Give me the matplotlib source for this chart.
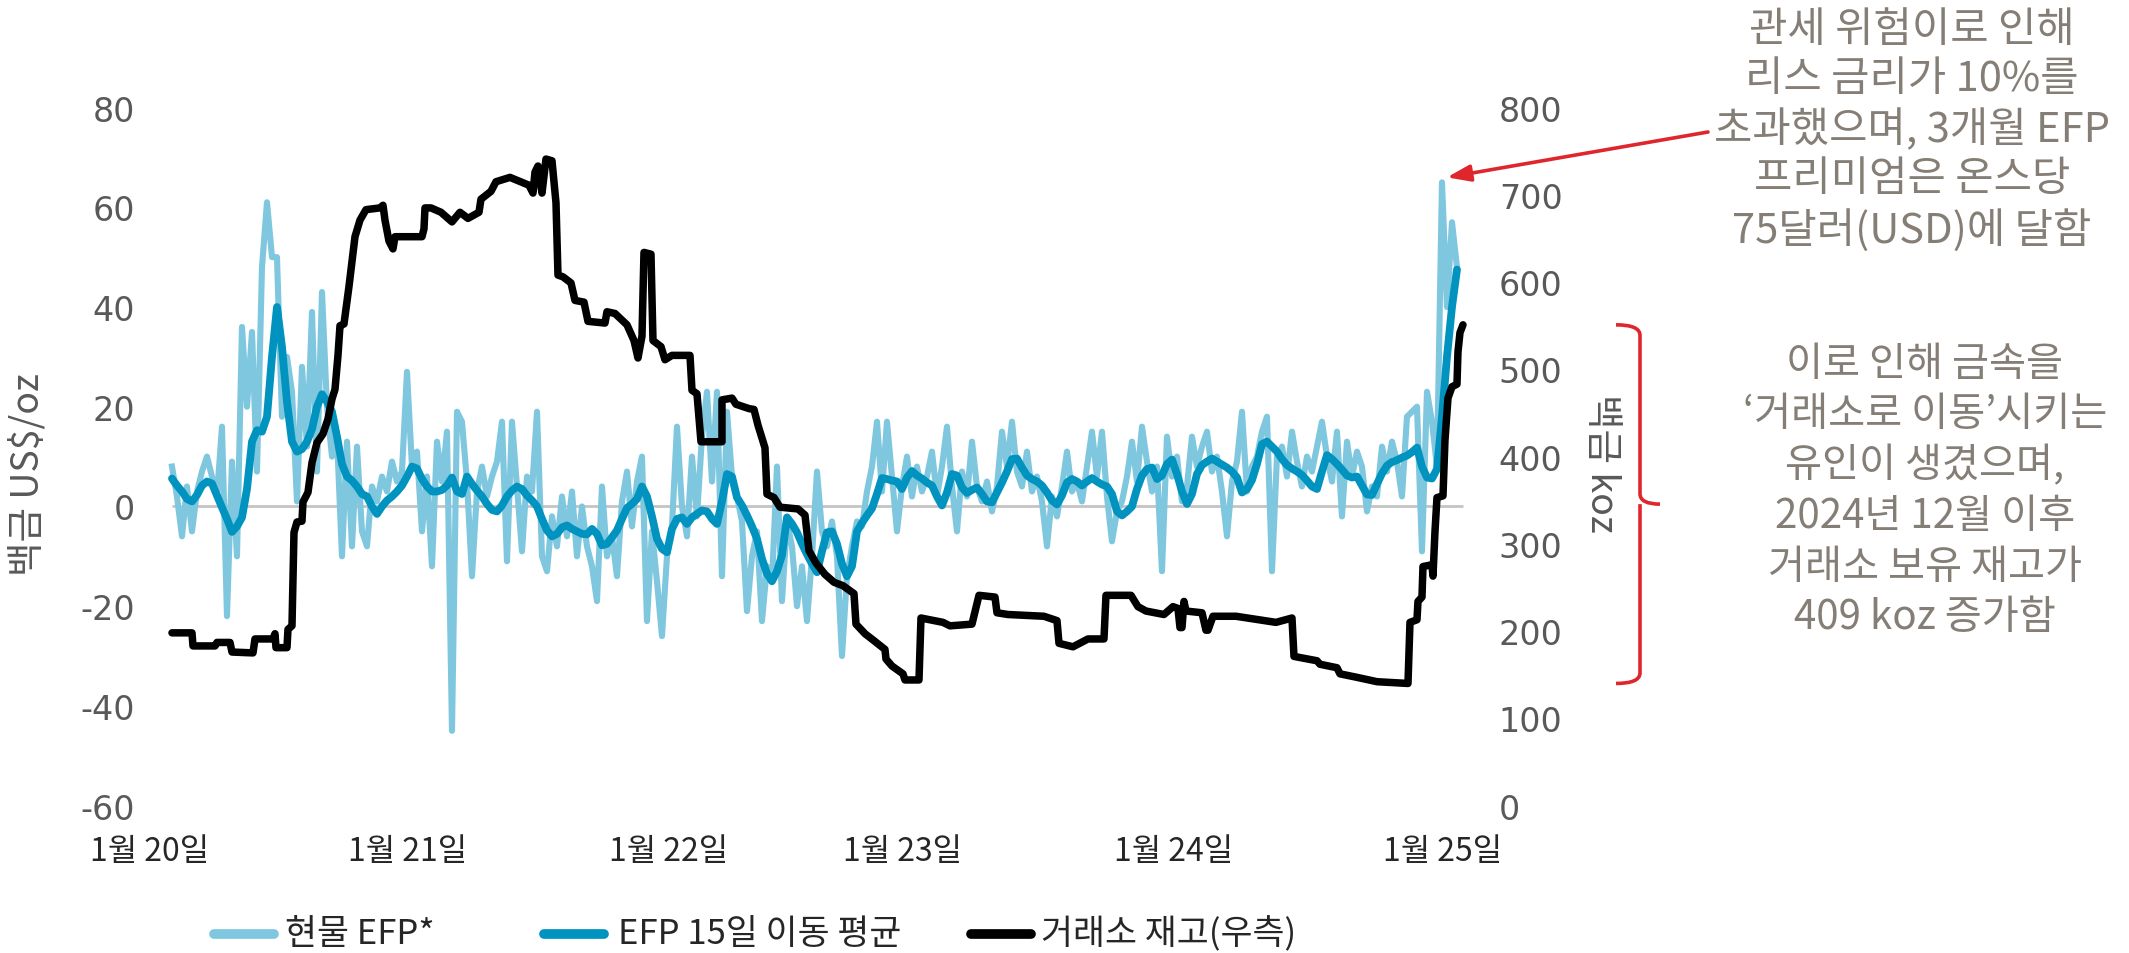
import matplotlib
matplotlib.use('Agg')
import matplotlib.pyplot as plt
import matplotlib.transforms as mtrans
from matplotlib.lines import Line2D
from matplotlib.path import Path
from matplotlib.patches import PathPatch
import numpy as np

plt.rcParams['font.family'] = ['Noto Sans CJK KR', 'DejaVu Sans']
plt.rcParams['axes.unicode_minus'] = False

# spot EFP, US$/oz, one reading every 5 trading days
spot_efp = [8, 2, -6, 4, -5, 3, 7, 10, 6, 2,
            16, -22, 9, -10, 36, 20, 35, 7, 48, 61,
            50, 50, 18, 30, 23, 1, 28, 12, 39, 7,
            43, 20, 10, 14, -10, 13, -8, 12, -5, -8,
            4, 1, 6, 3, 9, 5, 7, 27, 8, 11,
            -5, 6, -12, 13, 5, 15, -45, 19, 17, 5,
            -14, 3, 8, 2, 6, 9, 17, -11, 17, 4,
            -9, 6, 3, 19, -10, -13, -2, -8, 2, -6,
            3, -10, 0, -8, -12, -19, 4, -10, -6, -14,
            1, 7, -4, 5, 10, -23, -5, -15, -26, -10,
            -4, 16, 0, -6, 10, -2, 14, 23, 5, 23,
            -14, 19, 6, 2, -3, -21, -10, -5, -23, -12,
            -15, 8, -19, -3, -8, -20, -12, -23, -10, 7,
            -5, -8, -3, -10, -30, -14, -8, -3, -4, 3,
            8, 17, 3, 17, 6, -5, 4, 10, 2, 8,
            3, 6, 11, 2, 8, 16, 4, -5, 7, 2,
            13, 4, 1, 5, -1, 4, 15, 8, 17, 7,
            4, 11, 3, 6, 1, -8, 2, -2, 4, 11,
            3, 5, 1, 8, 15, 6, 15, 2, -7, -1,
            1, 6, 13, 5, 16, 9, 3, 8, -13, 14,
            6, 10, 1, 4, 14, 8, 12, 15, 7, 10,
            3, -6, 5, 9, 19, 3, 8, 10, 15, 18,
            -13, 10, 12, 6, 15, 9, 4, 10, 7, 12,
            17, 10, 5, 15, -2, 13, 6, 11, 8, -1,
            4, 2, 12, 7, 13, 9, 2, 18, 19, 20,
            -9, 23, 17, 8, 65, 40, 57, 48]

# EFP 15-day moving average, same spacing
efp_ma15 = [5.6, 4.2, 3.0, 1.5, 1.0, 2.3, 4.2, 5.0, 4.6, 2.2,
            -0.2, -2.5, -5.1, -4.0, -2.2, 3.5, 13, 15.3, 15, 18,
            30, 40, 32, 21, 13, 11, 11.5, 13, 15.5, 20,
            22.5, 21, 19, 14, 8.5, 6, 5.2, 4, 2.5, 2,
            0, -1.5, 0, 1.2, 2, 3, 4.2, 6, 8, 7.6,
            5.5, 4, 3, 3, 3.3, 4.2, 5.8, 3, 2.5, 6,
            4.5, 3.2, 2, 0.5, -0.7, -1, 0.2, 2, 3.2, 4,
            3.5, 2.2, 1.2, 0, -2.5, -4.8, -6, -5.5, -4.2, -3.8,
            -4.5, -5, -5.5, -5.6, -4.5, -5.5, -7.8, -7.5, -6.2, -4.8,
            -2.5, -0.3, 0.5, 1.5, 4, 2, -2, -6.5, -8.5, -9.2,
            -4.5, -2.5, -2.2, -3.5, -2.2, -1.5, -0.8, -1, -2.5, -3.5,
            1, 6.5, 6, 1.8, 0.2, -1.8, -4, -6.5, -10.5, -13.5,
            -15, -13, -9.8, -2.2, -3.5, -5.2, -7.5, -9.6, -11.5, -13.2,
            -9, -5.2, -5, -7.5, -11.5, -14, -12, -5, -3.3, -1.8,
            -0.4, 2.5, 5.7, 5.5, 5.2, 5, 3.5, 5.8, 7.1, 6.2,
            5.6, 4.8, 4.2, 2, 0.2, 2.8, 6.5, 6.2, 3.8, 2.7,
            3.3, 3.8, 2.5, 1, 0.8, 2.8, 4.8, 7, 9.5, 9.6,
            7.8, 6.2, 5.5, 5, 4.2, 2.8, 1.2, 0.4, 2.2, 4.8,
            5.5, 5, 4.2, 5, 5.7, 5, 4.4, 4, 2.5, -1,
            -1.8, -1, 0, 3.5, 6.2, 7.5, 7.8, 5.5, 6.2, 8.5,
            9.4, 6.5, 3, 0.5, 2.5, 6.5, 8.3, 9, 9.6, 9,
            8.4, 7.8, 7, 5.8, 2.8, 3.5, 5.3, 8.5, 12.5, 13,
            12, 11, 9.5, 8.3, 7.6, 7, 6.3, 5.2, 4, 3.5,
            7, 10.3, 9.5, 8.5, 7.4, 6.2, 5.8, 6, 4.2, 2.4,
            2.3, 4.5, 6.6, 8.2, 8.9, 9.3, 9.8, 10.2, 10.9, 11.8,
            8, 5.8, 5.6, 7.5, 18, 30, 40, 47.5]

# exchange inventory, koz (trading day, value)
inv_day = [0, 20, 21, 43, 45, 58, 60, 81, 83, 101, 103, 104, 115, 116, 120,
           122, 125, 130, 131, 136, 140, 145, 151, 156, 160, 163, 166, 168,
           172, 177, 183, 188, 194, 208, 211, 213, 217, 221, 223, 250, 252,
           253, 259, 269, 280, 288, 296, 307, 309, 319, 324, 338, 357, 361,
           363, 366, 370, 374, 380, 384, 386, 391, 399, 403, 412, 416, 433,
           435, 443, 455, 462, 466, 470, 472, 479, 481, 489, 493, 500, 518,
           520, 525, 529, 550, 550, 560, 564, 577, 582, 586, 593, 595, 602,
           608, 626, 633, 637, 644, 653, 662, 671, 682, 684, 693, 702, 713,
           714, 720, 731, 733, 747, 749, 771, 778, 800, 807, 823, 825, 836,
           872, 885, 887, 901, 916, 932, 934, 959, 966, 974, 992, 1001, 1006,
           1008, 1010, 1012, 1014, 1030, 1034, 1036, 1041, 1064, 1104, 1120,
           1122, 1145, 1148, 1165, 1168, 1185, 1205, 1236, 1238, 1245, 1246,
           1250, 1251, 1260, 1261, 1263, 1265, 1271, 1273, 1276, 1280, 1285,
           1286, 1288, 1291]
inv_koz = [198, 198, 183, 183, 187, 187, 176, 175, 191, 191, 197, 181, 181, 202, 206,
           313, 325, 326, 348, 359, 393, 416, 426, 443, 466, 477, 516, 550,
           552, 595, 652, 671, 683, 685, 688, 671, 647, 638, 652, 652, 661,
           685, 685, 680, 669, 680, 673, 680, 695, 704, 715, 720, 711, 702,
           726, 733, 702, 741, 739, 691, 608, 606, 599, 579, 577, 555, 553,
           566, 564, 551, 533, 513, 538, 634, 632, 533, 526, 511, 516, 516,
           476, 472, 417, 417, 465, 467, 460, 455, 454, 436, 410, 357, 353,
           342, 340, 333, 292, 278, 265, 256, 252, 243, 208, 197, 189, 179,
           168, 160, 151, 144, 144, 215, 210, 206, 208, 241, 239, 221, 219,
           217, 212, 186, 182, 191, 191, 241, 241, 228, 223, 219, 228, 226,
           204, 204, 234, 223, 221, 201, 201, 217, 217, 210, 215,
           171, 166, 162, 158, 151, 147, 142, 140, 210, 213, 234,
           239, 274, 276, 263, 314, 353, 355, 419, 467, 480, 483,
           520, 542, 551]

tick_day = [-22, 236, 497, 731, 1002, 1271]
tick_lab = ['1월 20일', '1월 21일', '1월 22일', '1월 23일', '1월 24일', '1월 25일']

c_spot = '#7fc7de'
c_ma = '#0093bf'
c_red = '#e0262d'
c_note = '#857e76'
c_axis = '#595959'

x_spot = 5 * np.arange(len(spot_efp))
x_ma = 5 * np.arange(len(efp_ma15))

fig = plt.figure(figsize=(21.29, 9.54), dpi=100)
ax = fig.add_axes([0.0681, 0.1545, 0.6294, 0.7317])
ax2 = ax.twinx()

ax.hlines(0, x_spot[0], inv_day[-1], color='#c4c4c4', lw=2.0, zorder=1)
ax.plot(x_spot, spot_efp, color=c_spot, lw=4.4, solid_joinstyle='round', zorder=2)
ax.plot(x_ma, efp_ma15, color=c_ma, lw=5.6, solid_joinstyle='round',
        solid_capstyle='round', zorder=3)
ax2.plot(inv_day, inv_koz, color='black', lw=5.4, solid_joinstyle='round',
         solid_capstyle='round')

ax.set_xlim(-27, 1313)
ax.set_ylim(-60, 80)
ax2.set_ylim(0, 800)
ax.set_yticks(range(-60, 81, 20))
ax2.set_yticks(range(0, 801, 100))
ax.set_xticks(tick_day)
ax.set_xticklabels(tick_lab, fontsize=23, color='#262626')
for a in (ax, ax2):
    for s in a.spines.values():
        s.set_visible(False)
    a.tick_params(length=0)
for lab in ax.get_yticklabels() + ax2.get_yticklabels():
    lab.set_family('DejaVu Sans')
    lab.set_fontsize(24)
    lab.set_color(c_axis)
ax.tick_params(axis='y', pad=7)
ax2.tick_params(axis='y', pad=10)
ax.tick_params(axis='x', pad=21)

fig.text(28 / 2129, 1 - 475 / 954, '백금 US$/oz', rotation=90, ha='center', va='center',
         fontsize=27, color=c_axis)
fig.text(1602 / 2129, 1 - 463 / 954, '백금 koz', rotation=-90, ha='center', va='center',
         fontsize=27, color=c_axis)

# legend, laid out like the original
legend_items = [(c_spot, '현물 EFP*', 210, 285),
                (c_ma, 'EFP 15일 이동 평균', 540, 618),
                ('black', '거래소 재고(우측)', 967, 1041)]
ly = 1 - 935 / 954
for col, name, hx, tx in legend_items:
    fig.add_artist(Line2D([(hx + 4) / 2129, (hx + 64) / 2129], [ly, ly], color=col, lw=7,
                          solid_capstyle='round', transform=fig.transFigure))
    fig.text(tx / 2129, ly, name, ha='left', va='center', fontsize=25, color='#262626')

# notes
note1 = '관세 위험이로 인해\n리스 금리가 10%를\n초과했으며, 3개월 EFP\n프리미엄은 온스당\n75달러(USD)에 달함'
note2 = '이로 인해 금속을\n‘거래소로 이동’시키는\n유인이 생겼으며,\n2024년 12월 이후\n거래소 보유 재고가\n409 koz 증가함'
fig.text(1912 / 2129, 1 - 131 / 954, note1, ha='center', va='center', multialignment='center',
         fontsize=30, color=c_note, linespacing=1.25)
fig.text(1925 / 2129, 1 - 491 / 954, note2, ha='center', va='center', multialignment='center',
         fontsize=29, color=c_note, linespacing=1.3)

peak = int(np.argmax(spot_efp))
ax.annotate('', xy=(x_spot[peak] + 5, spot_efp[peak] + 1),
            xytext=(1708 / 2129, 1 - 133 / 954), textcoords='figure fraction',
            arrowprops=dict(arrowstyle='-|>,head_length=1.4,head_width=0.5',
                            color=c_red, lw=2.6, shrinkA=0, shrinkB=0))

# brace spanning the inventory build
top = inv_koz[-1]
bot = min(inv_koz[-40:])
mid = (top + bot) / 2
tr = mtrans.blended_transform_factory(fig.transFigure, ax2.transData)
xa, xb, xc = 1616 / 2129, 1640 / 2129, 1660 / 2129
r = 12
brace_path = Path([(xa, top), (xb, top), (xb, top - r), (xb, mid + r), (xb, mid),
                   (xc, mid), (xb, mid), (xb, mid - r), (xb, bot + r), (xb, bot),
                   (xa, bot)],
                  [Path.MOVETO, Path.CURVE3, Path.CURVE3, Path.LINETO, Path.CURVE3,
                   Path.CURVE3, Path.MOVETO, Path.CURVE3, Path.CURVE3, Path.CURVE3,
                   Path.CURVE3])
brace = PathPatch(brace_path, transform=tr, fill=False, edgecolor=c_red, lw=2.6,
                  clip_on=False)
fig.add_artist(brace)

fig.savefig('out.png', dpi=100)
